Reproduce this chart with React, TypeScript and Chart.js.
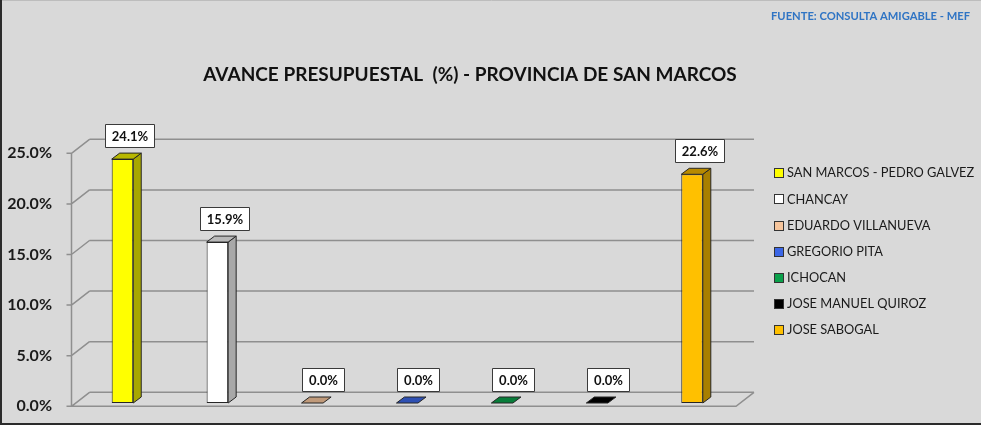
import { useEffect, useRef } from 'react';
import { Chart, registerables } from 'chart.js';

Chart.register(...registerables);

const categories = [
  'SAN MARCOS - PEDRO GALVEZ',
  'CHANCAY',
  'EDUARDO VILLANUEVA',
  'GREGORIO PITA',
  'ICHOCAN',
  'JOSE MANUEL QUIROZ',
  'JOSE SABOGAL',
];
const values = [24.1, 15.9, 0.0, 0.0, 0.0, 0.0, 22.6];
const colors = ['#ffff00', '#ffffff', '#f6c59c', '#3b66e6', '#0aa04a', '#000000', '#ffc000'];
const yMin = 0;
const yMax = 25;
const yStep = 5;
const titleText = 'AVANCE PRESUPUESTAL  (%) - PROVINCIA DE SAN MARCOS';
const sourceText = 'FUENTE: CONSULTA AMIGABLE - MEF';

const FONT = 'Lato, "Open Sans", sans-serif';
const GRID = '#8f8f8f';
// depth offsets relative to the bar plane
const FRONT = { x: -3.5, y: 3.3 };
const BACK = { x: 14.5, y: -10.7 };
const SIDE = { x: 8, y: -6 };

function shade(hex: string, f: number) {
  const n = parseInt(hex.slice(1), 16);
  const r = Math.round(((n >> 16) & 255) * f);
  const g = Math.round(((n >> 8) & 255) * f);
  const b = Math.round((n & 255) * f);
  return `rgb(${r},${g},${b})`;
}

const threeD = {
  id: 'threeD',
  beforeDraw(chart: any) {
    const { ctx, width, height } = chart;
    ctx.save();
    ctx.fillStyle = '#d9d9d9';
    ctx.fillRect(0, 0, width, height);
    ctx.strokeStyle = '#2b2b2b';
    ctx.lineWidth = 2;
    ctx.beginPath();
    ctx.moveTo(1, 0);
    ctx.lineTo(1, height - 1);
    ctx.lineTo(width, height - 1);
    ctx.stroke();
    ctx.strokeStyle = '#bdbdbd';
    ctx.lineWidth = 1;
    ctx.beginPath();
    ctx.moveTo(2, 0.5);
    ctx.lineTo(width, 0.5);
    ctx.stroke();

    ctx.fillStyle = '#111111';
    ctx.font = `bold 19px ${FONT}`;
    ctx.textAlign = 'center';
    ctx.textBaseline = 'middle';
    ctx.fillText(titleText, 470, 75);
    ctx.fillStyle = '#2f74c4';
    ctx.font = `bold 11.2px ${FONT}`;
    ctx.textAlign = 'right';
    ctx.fillText(sourceText, 970, 16);
    ctx.restore();
  },
  beforeDatasetsDraw(chart: any) {
    const { ctx, chartArea, scales } = chart;
    const { left, right, bottom } = chartArea;
    const y = scales.y;
    ctx.save();
    ctx.strokeStyle = GRID;
    ctx.lineWidth = 1.5;
    ctx.beginPath();
    y.ticks.forEach((t: any) => {
      const py = y.getPixelForValue(t.value);
      ctx.moveTo(left + BACK.x, py + BACK.y);
      ctx.lineTo(right + BACK.x, py + BACK.y);
      ctx.moveTo(left + FRONT.x, py + FRONT.y);
      ctx.lineTo(left + BACK.x, py + BACK.y);
      ctx.moveTo(left + FRONT.x - 5, py + FRONT.y);
      ctx.lineTo(left + FRONT.x, py + FRONT.y);
    });
    const topY = y.getPixelForValue(yMax);
    ctx.moveTo(left + FRONT.x, topY + FRONT.y);
    ctx.lineTo(left + FRONT.x, bottom + FRONT.y);
    ctx.lineTo(right + FRONT.x, bottom + FRONT.y);
    ctx.lineTo(right + BACK.x, bottom + BACK.y);
    ctx.stroke();
    ctx.restore();
  },
  afterDatasetsDraw(chart: any) {
    const { ctx } = chart;
    const meta = chart.getDatasetMeta(0);
    ctx.save();
    ctx.lineWidth = 1;
    ctx.strokeStyle = '#262626';
    ctx.lineJoin = 'round';
    meta.data.forEach((bar: any, i: number) => {
      const { x, y, base, width } = bar.getProps(['x', 'y', 'base', 'width'], true);
      const l = x - width / 2;
      const r = x + width / 2;
      const c = colors[i];
      if (base - y > 0.5) {
        ctx.fillStyle = shade(c, 0.66);
        ctx.beginPath();
        ctx.moveTo(r, y);
        ctx.lineTo(r + SIDE.x, y + SIDE.y);
        ctx.lineTo(r + SIDE.x, base + SIDE.y);
        ctx.lineTo(r, base);
        ctx.closePath();
        ctx.fill();
        ctx.stroke();
      }
      ctx.fillStyle = shade(c, values[i] > 0 ? 0.72 : 0.78);
      ctx.beginPath();
      ctx.moveTo(l, y);
      ctx.lineTo(l + SIDE.x, y + SIDE.y);
      ctx.lineTo(r + SIDE.x, y + SIDE.y);
      ctx.lineTo(r, y);
      ctx.closePath();
      ctx.fill();
      ctx.stroke();
    });
    ctx.font = `bold 13px ${FONT}`;
    ctx.textAlign = 'center';
    ctx.textBaseline = 'middle';
    meta.data.forEach((bar: any, i: number) => {
      const { x, y } = bar.getProps(['x', 'y'], true);
      const v = values[i];
      const txt = v.toFixed(1) + '%';
      const tw = ctx.measureText(txt).width;
      const bw = Math.round(tw + 13);
      const bh = 23;
      const cx = x + (v > 0 ? 7 : 10.5);
      const bb = y - 12;
      const bl = Math.round(cx - bw / 2) + 0.5;
      const bt = Math.round(bb - bh) + 0.5;
      ctx.fillStyle = '#ffffff';
      ctx.fillRect(bl, bt, bw, bh);
      ctx.strokeStyle = '#3a3a3a';
      ctx.strokeRect(bl, bt, bw, bh);
      ctx.fillStyle = '#111111';
      ctx.fillText(txt, bl + bw / 2, bt + bh / 2 + 0.5);
    });
    ctx.restore();
  },
  afterDraw(chart: any) {
    const { ctx, chartArea } = chart;
    ctx.save();
    const lx = chartArea.right + 34.5;
    const ly0 = chartArea.top + 23.3;
    ctx.font = `12.8px ${FONT}`;
    ctx.textAlign = 'left';
    ctx.textBaseline = 'middle';
    categories.forEach((name, i) => {
      const cy = ly0 + i * 26.1;
      ctx.fillStyle = colors[i];
      ctx.fillRect(lx + 0.5, Math.round(cy - 5) + 0.5, 9, 9);
      ctx.strokeStyle = '#333333';
      ctx.lineWidth = 1;
      ctx.strokeRect(lx + 0.5, Math.round(cy - 5) + 0.5, 9, 9);
      ctx.fillStyle = '#1a1a1a';
      ctx.fillText(name, lx + 13, cy);
    });
    ctx.restore();
  },
};

export default function App() {
  const ref = useRef<HTMLCanvasElement>(null);
  useEffect(() => {
    if (!ref.current) return;
    const chart = new Chart(ref.current, {
      type: 'bar',
      data: {
        labels: categories,
        datasets: [
          {
            data: values,
            backgroundColor: colors,
            borderColor: '#262626',
            borderWidth: 1,
            borderSkipped: false,
            barPercentage: 0.227,
            categoryPercentage: 1,
          },
        ],
      },
      options: {
        responsive: false,
        animation: false,
        layout: { padding: { top: 150, bottom: 22, left: 0, right: 241.5 } },
        plugins: {
          legend: { display: false },
          title: { display: false },
          tooltip: { enabled: false },
        },
        scales: {
          x: { display: false },
          y: {
            min: yMin,
            max: yMax,
            grid: { display: false, drawTicks: false },
            border: { display: false },
            afterFit: (s: any) => {
              s.width = 75;
              s.paddingTop = 0;
              s.paddingBottom = 0;
            },
            ticks: {
              stepSize: yStep,
              padding: 23,
              labelOffset: 3.3,
              color: '#1a1a1a',
              font: { family: FONT, size: 16, weight: 'bold' },
              callback: (v: any) => Number(v).toFixed(1) + '%',
            },
          },
        },
      },
      plugins: [threeD],
    });
    return () => chart.destroy();
  }, []);
  return (
    <div style={{ position: 'absolute', left: 0, top: 0, width: 981, height: 425 }}>
      <canvas ref={ref} width={981} height={425} style={{ display: 'block' }} />
    </div>
  );
}
